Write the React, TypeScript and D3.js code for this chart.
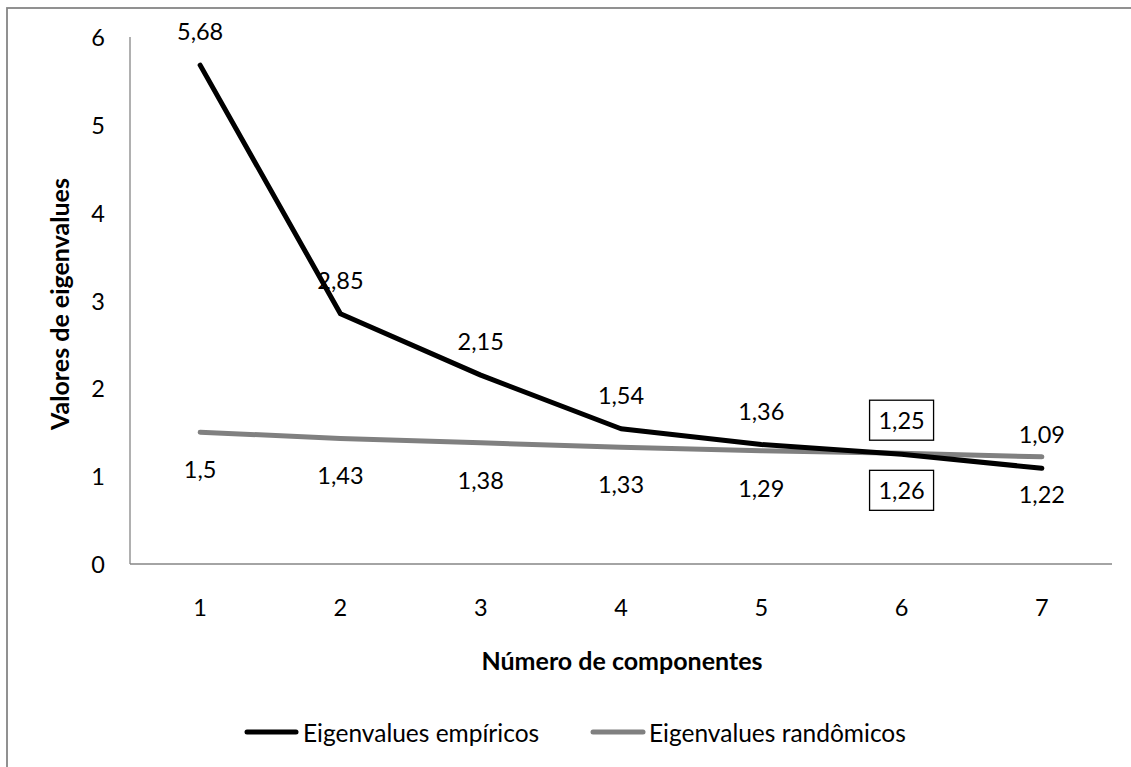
import React from "react";
import * as d3 from "d3";

const categories = ["1", "2", "3", "4", "5", "6", "7"];
const empiricos = [5.68, 2.85, 2.15, 1.54, 1.36, 1.25, 1.09];
const randomicos = [1.5, 1.43, 1.38, 1.33, 1.29, 1.26, 1.22];
const yTicks = [0, 1, 2, 3, 4, 5, 6];
const boxedIndex = 5;
const fmt = (v: number) => String(v).replace(".", ",");

const W = 1131;
const H = 767;
const FONT = "Lato, 'Open Sans', sans-serif";

export default function App() {
  const x = d3.scaleBand<string>().domain(categories).range([130, 1112]).padding(0);
  const cx = (c: string) => (x(c) as number) + x.bandwidth() / 2;
  const y = d3.scaleLinear().domain([0, 6]).range([564, 37]);
  const line = d3
    .line<number>()
    .x((_, i) => cx(categories[i]))
    .y((d) => y(d));

  const labelEl = (v: number, i: number, dy: number, key: string) => {
    const px = cx(categories[i]);
    const py = y(v) + dy;
    return (
      <g key={key}>
        {i === boxedIndex && (
          <rect x={px - 32} y={py - 20} width={64} height={40} fill="white" stroke="#000" strokeWidth={1.3} />
        )}
        <text x={px} y={py} textAnchor="middle" dominantBaseline="central" fontSize={23.5} fill="#000">
          {fmt(v)}
        </text>
      </g>
    );
  };

  return (
    <svg width={W} height={H} style={{ position: "absolute", left: 0, top: 0, background: "white" }} fontFamily={FONT}>
      <rect x={7} y={8} width={1140} height={780} fill="white" stroke="#868686" strokeWidth={1.8} />
      {/* axes */}
      <line x1={130} y1={37} x2={130} y2={564} stroke="#868686" strokeWidth={1.3} />
      <line x1={130} y1={564} x2={1112} y2={564} stroke="#868686" strokeWidth={1.3} />
      {yTicks.map((t) => (
        <text key={t} x={105} y={y(t)} textAnchor="end" dominantBaseline="central" fontSize={23.5}>
          {t}
        </text>
      ))}
      {categories.map((c) => (
        <text key={c} x={cx(c)} y={607} textAnchor="middle" dominantBaseline="central" fontSize={23.5}>
          {c}
        </text>
      ))}
      <text x={622} y={660} textAnchor="middle" dominantBaseline="central" fontSize={25} fontWeight="bold">
        Número de componentes
      </text>
      <text
        transform={`translate(59,${304}) rotate(-90)`}
        textAnchor="middle"
        dominantBaseline="central"
        fontSize={25}
        fontWeight="bold"
      >
        Valores de eigenvalues
      </text>
      {/* lines */}
      <path d={line(randomicos) as string} fill="none" stroke="#808080" strokeWidth={5} strokeLinecap="round" strokeLinejoin="round" />
      <path d={line(empiricos) as string} fill="none" stroke="#000" strokeWidth={5} strokeLinecap="round" strokeLinejoin="round" />
      {/* labels */}
      {empiricos.map((v, i) => labelEl(v, i, -34, "e" + i))}
      {randomicos.map((v, i) => labelEl(v, i, 37, "r" + i))}
      {/* legend */}
      <line x1={247} y1={732} x2={296} y2={732} stroke="#000" strokeWidth={5} strokeLinecap="round" />
      <text x={303} y={732} dominantBaseline="central" fontSize={24.5}>
        Eigenvalues empíricos
      </text>
      <line x1={593} y1={732} x2={643} y2={732} stroke="#808080" strokeWidth={5} strokeLinecap="round" />
      <text x={649} y={732} dominantBaseline="central" fontSize={24.5}>
        Eigenvalues randômicos
      </text>
    </svg>
  );
}
